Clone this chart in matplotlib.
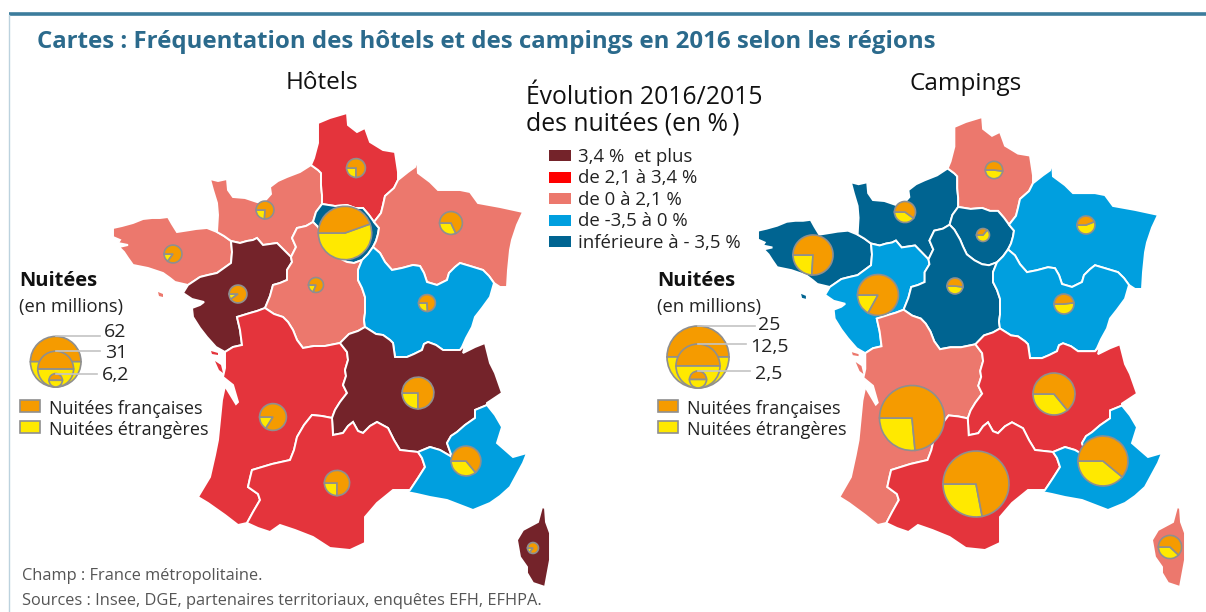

# Hotel and camping nights per French region in 2016, two choropleth maps with pies
import matplotlib
matplotlib.use('Agg')
import matplotlib.pyplot as plt
from matplotlib.patches import Polygon, Rectangle, Wedge

plt.rcParams['font.family'] = ['Open Sans', 'DejaVu Sans']

# Borders shared by two regions (pixels of the left map)
b_bret_norm = [(217,232),(224,236),(231,241)]
b_bret_pdl = [(231,241),(232,252),(231,263),(224,268),(217,273),(208,275),(200,277),(194,281),(188,285)]
b_norm_pdl = [(231,241),(240,243),(247,241),(253,240),(257,238),(263,245),(270,244),(277,243),(284,250),(291,257)]
b_norm_cvl = [(291,257),(296,247),(292,238),(297,228),(306,226),(313,222)]
b_norm_idf = [(313,222),(316,212),(322,204)]
b_norm_hdf = [(322,204),(322,195),(321,185),(321,173),(318,170),(311,165)]
b_hdf_idf = [(322,204),(335,206),(347,205),(355,208),(363,208),(369,215),(374,222)]
b_hdf_ge = [(398,180),(394,188),(385,196),(383,205),(381,213),(374,222)]
b_idf_ge = [(374,222),(379,228),(378,234),(376,241),(373,247)]
b_idf_bfc = [(373,247),(368,254),(362,260)]
b_idf_cvl = [(362,260),(354,263),(347,262),(339,258),(331,252),(327,244),(324,237),(318,227),(313,222)]
b_ge_bfc = [(373,247),(380,253),(385,262),(392,270),(402,268),(413,265),(420,266),(424,273),(427,282),(437,285),(447,280),(449,273),(455,267),(460,263),(470,266),(483,270),(489,276),(494,283)]
b_pdl_cvl = [(291,257),(292,262),(287,270),(287,280),(280,283),(273,285),(270,296),(265,308)]
b_pdl_na = [(265,308),(257,311),(250,313),(237,317),(240,330),(242,345),(233,347),(225,352)]
b_cvl_bfc = [(362,260),(358,270),(358,280),(362,288),(365,297),(365,313),(364,320),(365,327)]
b_cvl_aura = [(365,327),(358,331),(349,334),(340,343)]
b_cvl_na = [(340,343),(325,346),(314,346),(303,348),(297,340),(293,330),(288,322),(283,317),(274,314),(265,308)]
b_bfc_aura = [(365,327),(376,334),(383,335),(390,340),(393,343),(395,357),(407,357),(414,354),(422,350),(424,344),(428,342),(436,345),(443,350),(452,350),(460,350)]
b_na_aura = [(340,343),(347,352),(348,360),(345,370),(346,376),(343,385),(347,393),(340,402),(335,410),(332,418)]
b_na_occ = [(332,418),(322,416),(312,415),(304,425),(297,437),(294,450),(290,460),(272,464),(252,470),(250,478),(248,487),(258,494),(260,500),(253,512),(247,523)]
b_aura_occ = [(332,418),(333,435),(343,433),(348,426),(353,422),(358,431),(363,433),(370,426),(377,422),(388,428),(394,440),(400,450),(409,451),(418,452)]
b_occ_paca = [(418,452),(422,458),(425,467),(418,478),(410,490)]
b_aura_paca = [(418,452),(430,447),(440,450),(452,457),(447,443),(451,436),(457,432),(465,425),(475,418),(475,410),(487,405)]

# Coast and frontier pieces
c_bret = [(217,232),(207,228),(196,229),(190,230),(177,232),(172,224),(168,217),(160,218),(152,218),(143,219),(133,223),(122,226),(113,228),(113,237),(120,240),(118,243),(128,245),(119,247),(124,252),(128,258),(133,265),(148,268),(163,273),(170,278),(175,282),(188,285)]
c_norm = [(217,232),(218,215),(217,203),(213,190),(210,179),(218,181),(227,179),(228,190),(233,197),(245,198),(257,202),(263,203),(271,194),(270,187),(278,181),(287,177),(300,172),(311,165)]
c_hdf = [(311,165),(314,158),(318,143),(318,123),(330,118),(347,113),(348,125),(357,132),(365,128),(370,142),(383,150),(395,152),(398,172),(398,180)]
c_ge = [(398,180),(408,172),(415,167),(417,158),(418,173),(430,182),(438,190),(460,190),(470,192),(478,203),(500,207),(523,212),(517,225),(512,240),(510,250),(508,270),(507,287),(500,287),(494,283)]
c_bfc = [(494,283),(490,297),(482,308),(475,317),(472,327),(466,338),(462,347),(460,350)]
c_aura = [(460,350),(465,345),(463,353),(475,347),(485,343),(490,363),(495,373),(502,393),(487,403),(487,405)]
c_paca = [(487,405),(495,415),(502,427),(497,443),(513,457),(527,453),(523,463),(510,487),(500,496),(490,503),(473,510),(460,505),(447,500),(430,497),(417,494),(407,492),(410,490)]
c_occ = [(410,490),(393,490),(377,503),(365,517),(365,543),(350,550),(330,548),(313,537),(295,530),(280,525),(270,532),(258,528),(247,523)]
c_na = [(247,523),(238,525),(225,515),(208,503),(198,497),(210,477),(215,455),(218,440),(220,420),(222,400),(225,386),(236,404),(238,402),(233,385),(223,377),(225,368),(225,352)]
c_pdl = [(225,352),(216,347),(207,337),(200,328),(193,317),(192,308),(200,305),(204,302),(192,299),(183,293),(188,285)]
corse = [(542,507),(545,508),(546,522),(550,533),(550,560),(545,587),(533,583),(527,573),(527,567),(520,557),(517,540),(523,530),(538,522)]

# Little islands: Belle-Ile, Ré, Oléron
isle_belle = [(158,292),(163,294),(163,297),(159,296)]
isle_re = [(211,351),(218,353),(218,355),(212,354)]
isle_oleron = [(215,361),(221,365),(223,373),(219,370)]
isle_classes_region = [0, 8, 8]

def rev(chain):
    return chain[::-1]

bretagne = c_bret + rev(b_bret_pdl) + rev(b_bret_norm)
normandie = c_norm + rev(b_norm_hdf) + rev(b_norm_idf) + rev(b_norm_cvl) + rev(b_norm_pdl) + rev(b_bret_norm)
hauts_de_france = c_hdf + b_hdf_ge + rev(b_hdf_idf) + b_norm_hdf
ile_de_france = b_hdf_idf + b_idf_ge + b_idf_bfc + b_idf_cvl + b_norm_idf
grand_est = c_ge + rev(b_ge_bfc) + rev(b_idf_ge) + rev(b_hdf_ge)
pays_de_la_loire = b_norm_pdl + b_pdl_cvl + b_pdl_na + c_pdl + rev(b_bret_pdl)
centre_val_de_loire = b_norm_cvl + rev(b_idf_cvl) + b_cvl_bfc + b_cvl_aura + b_cvl_na + rev(b_pdl_cvl)
bourgogne_fc = b_ge_bfc + c_bfc + rev(b_bfc_aura) + rev(b_cvl_bfc) + rev(b_idf_bfc)
nouvelle_aquitaine = rev(b_pdl_na) + rev(b_cvl_na) + b_na_aura + b_na_occ + c_na
auvergne_ra = b_bfc_aura + c_aura + rev(b_aura_paca) + rev(b_aura_occ) + rev(b_na_aura) + rev(b_cvl_aura)
occitanie = b_aura_occ + b_occ_paca + c_occ + rev(b_na_occ)
paca = b_aura_paca + c_paca + rev(b_occ_paca)

regions = [bretagne, normandie, hauts_de_france, ile_de_france, grand_est, pays_de_la_loire, centre_val_de_loire,
           bourgogne_fc, nouvelle_aquitaine, auvergne_ra, occitanie, paca, corse]

# Evolution class of each region (index in map_colors), same order as regions
hotel_classes = [2, 2, 1, 4, 2, 0, 2, 3, 1, 0, 1, 3, 0]
camping_classes = [4, 4, 2, 4, 3, 3, 4, 3, 2, 1, 1, 3, 2]
map_colors = ['#74232a', '#e4343c', '#ec786d', '#009fdf', '#006491']
legend_colors = ['#74232a', '#ff0000', '#ec786d', '#009fdf', '#006491']
class_labels = ['3,4 %  et plus', 'de 2,1 à 3,4 %', 'de 0 à 2,1 %', 'de -3,5 à 0 %', 'inférieure à - 3,5 %']

# Nights in millions and foreign share
hotel_nights = [7.7, 7.7, 8.6, 69, 12.6, 7.7, 5.4, 6.9, 17.4, 24.4, 15.4, 21.5, 2.9]
hotel_foreign = [0.15, 0.24, 0.25, 0.555, 0.32, 0.10, 0.19, 0.26, 0.16, 0.25, 0.25, 0.36, 0.15]
camping_nights = [10.1, 2.8, 1.9, 1.06, 2.04, 10.6, 1.6, 2.5, 26.6, 11.1, 27.4, 15.7, 3.4]
camping_foreign = [0.24, 0.40, 0.48, 0.64, 0.56, 0.17, 0.48, 0.52, 0.265, 0.36, 0.28, 0.39, 0.38]

# Pie centres
hotel_centers = [(173,254),(265,210),(356,168),(345,233),(451,223),(238,294),(316,285),(427,303),(273,417),(418,393),(337,483),(466,461),(533,548)]
camping_centers = [(813,255),(905,212),(994,170),(983,235),(1086,225),(878,295),(955,286),(1064,304),(912,418),(1054,394),(976,484),(1103,461),(1170,547)]

hotel_legend_values = ['62', '31', '6,2']
camping_legend_values = ['25', '12,5', '2,5']
hotel_legend_radii = [25.3, 17.9, 6.7]
camping_legend_radii = [31, 22, 8.5]

ORANGE = '#f59b00'
YELLOW = '#ffe900'
GREY = '#8f8f8f'

fig = plt.figure(figsize=(12.06, 6.12), dpi=100)
ax = fig.add_axes([0, 0, 1, 1])
ax.set_xlim(0, 1206)
ax.set_ylim(612, 0)
ax.axis('off')

# The right map is the same shape, only a bit squeezed in the west
def to_right_map(outline):
    moved = []
    for x, y in outline:
        moved.append((x + 635 + 10 * max(0, 350 - x) / 237, y + max(0, 450 - y) * 0.012))
    return moved

def draw_map(classes, right):
    isles = [isle_belle, isle_re, isle_oleron]
    for outline, c in zip(regions, classes):
        pts = to_right_map(outline) if right else outline
        ax.add_patch(Polygon(pts, closed=True, facecolor=map_colors[c], edgecolor='white', linewidth=1.4, zorder=2))
    for outline, k in zip(isles, isle_classes_region):
        pts = to_right_map(outline) if right else outline
        ax.add_patch(Polygon(pts, closed=True, facecolor=map_colors[classes[k]], edgecolor='none', zorder=2))

def draw_pies(nights, foreign, centers, full_value, full_radius):
    for v, f, c in zip(nights, foreign, centers):
        r = full_radius * (v / full_value) ** 0.5
        ax.pie([f, 1 - f], colors=[YELLOW, ORANGE], center=c, radius=r, startangle=180, counterclock=False, frame=True,
               wedgeprops={'edgecolor': GREY, 'linewidth': 1.2, 'zorder': 3})

def size_legend(cx, bottom, radii, values, label_x, line_ends, label_ys, title_x, swatch_x, text_x):
    ax.text(title_x, 281, 'Nuitées', fontsize=14.5, fontweight='bold', va='center', color='#111111')
    ax.text(title_x, 307, '(en millions)', fontsize=13.2, va='center', color='#222222')
    for r in radii:
        cy = bottom - r
        ax.add_patch(Wedge((cx, cy), r, 180, 360, facecolor=ORANGE, edgecolor=GREY, linewidth=1.2, zorder=3))
        ax.add_patch(Wedge((cx, cy), r, 0, 180, facecolor=YELLOW, edgecolor=GREY, linewidth=1.2, zorder=3))
    for r, v, end, lx, ly in zip(radii, values, line_ends, label_x, label_ys):
        top = bottom - 2 * r
        ax.plot([cx, end], [top, top], color='#c4c4c4', linewidth=1.2, zorder=4)
        ax.text(lx, ly, v, fontsize=14, va='center', color='#222222')
    for y, col, lab in [(400, ORANGE, 'Nuitées françaises'), (421, YELLOW, 'Nuitées étrangères')]:
        ax.add_patch(Rectangle((swatch_x, y), 20, 12, facecolor=col, edgecolor=GREY, linewidth=1.2))
        ax.text(text_x, y + 9, lab, fontsize=13, va='center', color='#222222')

# frame of the page
ax.plot([9, 1206], [14, 14], color='#3c7c9c', linewidth=2.6, solid_capstyle='butt')
ax.plot([9, 9], [15, 612], color='#bcd2de', linewidth=1)

ax.text(37, 42, 'Cartes : Fréquentation des hôtels et des campings en 2016 selon les régions',
        fontsize=17.3, fontweight='bold', color='#2b6a8c', va='center')
ax.text(322, 83, 'Hôtels', fontsize=17.5, ha='center', va='center', color='#111111')
ax.text(966, 84, 'Campings', fontsize=17.5, ha='center', va='center', color='#111111')

draw_map(hotel_classes, False)
draw_map(camping_classes, True)
draw_pies(hotel_nights, hotel_foreign, hotel_centers, 62, 25.3)
draw_pies(camping_nights, camping_foreign, camping_centers, 25, 31.5)

# evolution legend
ax.text(526, 97, 'Évolution 2016/2015', fontsize=17.8, va='center', color='#111111')
ax.text(526, 124, 'des nuitées (en %\u2009)', fontsize=17.8, va='center', color='#111111')
for i, (col, lab) in enumerate(zip(legend_colors, class_labels)):
    y = 150 + i * 21.6
    ax.add_patch(Rectangle((549, y), 22, 11, facecolor=col, edgecolor='none'))
    ax.text(578, y + 6.5, lab, fontsize=13.4, va='center', color='#222222')

size_legend(55.7, 387, hotel_legend_radii, hotel_legend_values, [104, 105, 102], [100, 100, 97], [332, 353, 375], 19, 20, 49)
size_legend(698, 388, camping_legend_radii, camping_legend_values, [758, 750, 755], [755, 746, 750], [325, 347, 374], 657, 658, 687)

ax.text(22, 576, 'Champ : France métropolitaine.', fontsize=11.8, va='center', color='#555555')
ax.text(22, 601, 'Sources : Insee, DGE, partenaires territoriaux, enquêtes EFH, EFHPA.', fontsize=11.8, va='center', color='#555555')

ax.set_xlim(0, 1206)
ax.set_ylim(612, 0)
ax.set_aspect('auto')
ax.axis('off')
fig.savefig('out.png', dpi=100)
